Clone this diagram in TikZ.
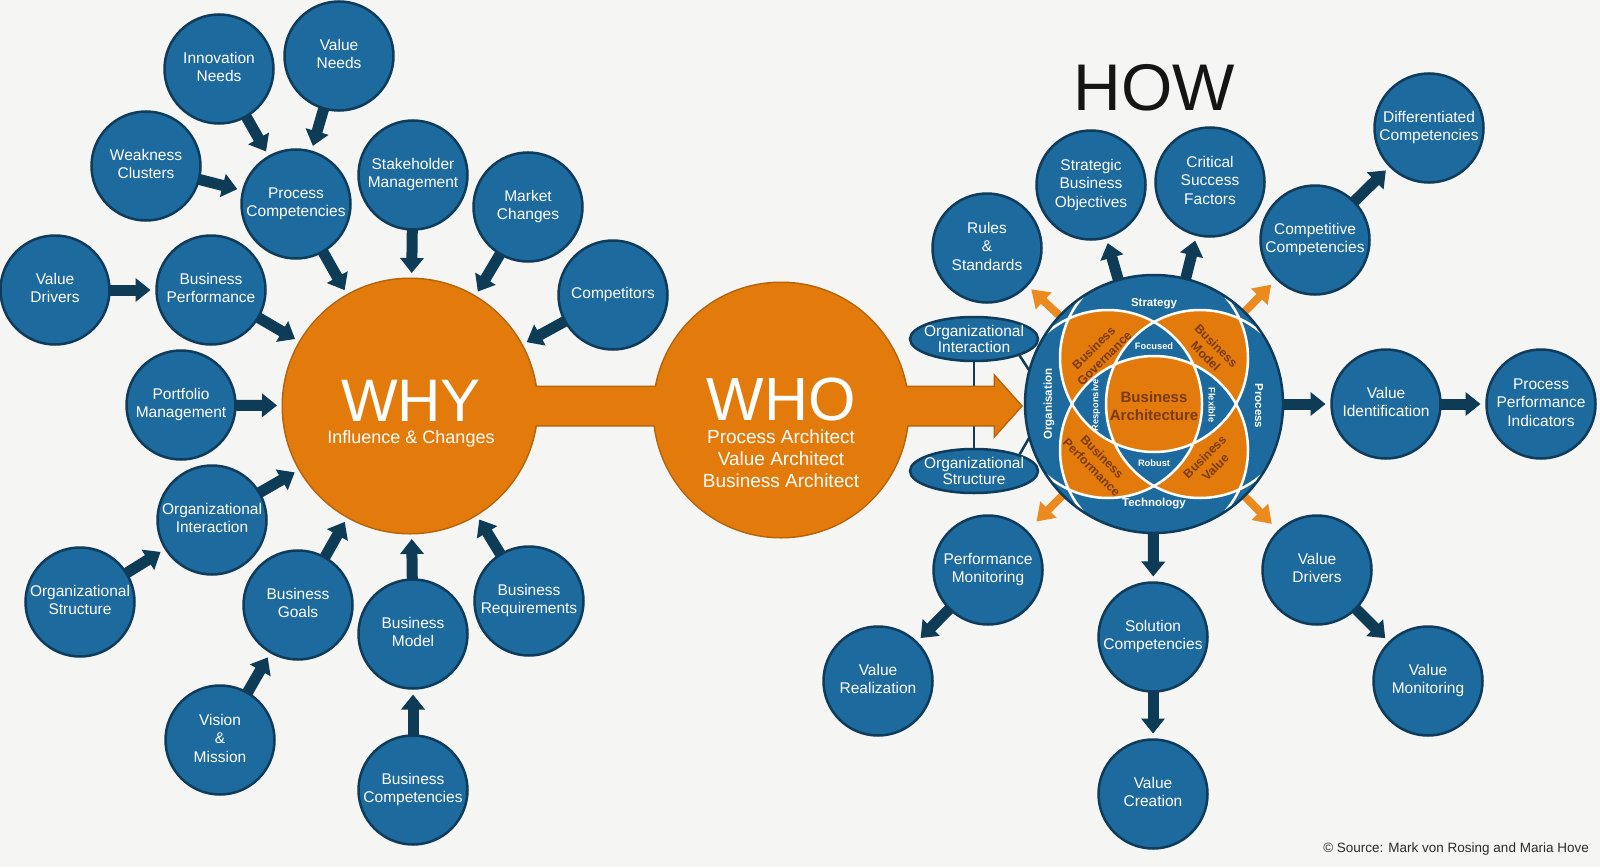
\documentclass[tikz,border=0pt]{standalone}
\usepackage{fontspec}
\setmainfont{Liberation Sans}
\usetikzlibrary{arrows.meta,shapes.geometric,calc}
\pgfdeclarelayer{back}
\pgfdeclarelayer{conn}
\pgfsetlayers{back,conn,main}
\definecolor{cblue}{HTML}{1D6A9E}
\definecolor{cblueline}{HTML}{0F3C5A}
\definecolor{carrow}{HTML}{0E3B56}
\definecolor{corange}{HTML}{E27B0B}
\definecolor{corangeline}{HTML}{B5620A}
\definecolor{coarrow}{HTML}{EA8A1F}
\definecolor{cbrown}{HTML}{7A3A0C}
\definecolor{cbg}{HTML}{F5F5F4}
\definecolor{chow}{HTML}{151515}
\newcommand{\ct}[1]{\makebox[0pt]{\begin{tabular}{@{}c@{}}#1\end{tabular}}}
\begin{document}
\begin{tikzpicture}[x=1pt,y=-1pt,
  bc/.style={circle, minimum size=109pt, inner sep=0pt, outer sep=0pt, fill=cblue, draw=cblueline, line width=2.5pt, text=white, font=\fontsize{15.5}{18.5}\selectfont},
  hub/.style={circle, minimum size=254pt, inner sep=0pt, outer sep=0pt},
  ell/.style={ellipse, minimum width=128pt, minimum height=44pt, inner sep=0pt, fill=cblue, draw=cblueline, line width=2.5pt},
  etxt/.style={text=white, font=\fontsize{15.5}{16}\selectfont, align=center, inner sep=0pt},
  darr/.style={draw=carrow, line width=11pt, -{Triangle[length=15pt,width=23pt]}, shorten >=6pt},
  oarr/.style={draw=coarrow, line width=8pt, -{Triangle[length=17pt,width=22pt]}},
  thinline/.style={draw=carrow, line width=2.5pt},
  lbl/.style={text=white, font=\bfseries\fontsize{11.5}{13}\selectfont, inner sep=0pt},
  slbl/.style={text=white, font=\bfseries\fontsize{9.3}{11}\selectfont, inner sep=0pt},
  plbl/.style={text=cbrown, font=\bfseries\fontsize{12.3}{15}\selectfont, align=center, inner sep=0pt},
  core/.style={text=cbrown, font=\bfseries\fontsize{15}{18}\selectfont, align=center, inner sep=0pt},
  bigt/.style={text=white, inner sep=0pt},
]
\begin{pgfonlayer}{back}
\fill[cbg] (0,0) rectangle (1600,867);
\end{pgfonlayer}
\useasboundingbox (0,0) rectangle (1600,867);

% ---------- WHY / WHO ----------
\node[hub] (why) at (410,406) {};
\node[hub] (who) at (781,410) {};
\draw[corangeline, line width=3pt] (why.center) circle[radius=127pt];
\draw[corangeline, line width=3pt] (who.center) circle[radius=127pt];
\draw[corangeline, line width=3pt, line join=miter] (410,387) -- (995,387) -- (995,377) -- (1021,406) -- (995,435) -- (995,425) -- (410,425) -- cycle;
\fill[corange] (why.center) circle[radius=127pt];
\fill[corange] (who.center) circle[radius=127pt];
\fill[corange] (410,387) -- (995,387) -- (995,377) -- (1021,406) -- (995,435) -- (995,425) -- (410,425) -- cycle;

\node[bigt, font=\fontsize{60}{60}\selectfont] (whyt) at (411,401) {WHY};
\node[bigt, font=\fontsize{18}{20}\selectfont, anchor=base] (whys) at (411,443) {Influence \& Changes};
\node[bigt, font=\fontsize{61}{61}\selectfont] (whot) at (781,399) {WHO};
\node[bigt, font=\fontsize{19}{22}\selectfont, anchor=base] (who1) at (781,443) {Process Architect};
\node[bigt, font=\fontsize{19}{22}\selectfont, anchor=base] (who2) at (781,465) {Value Architect};
\node[bigt, font=\fontsize{19}{22}\selectfont, anchor=base] (who3) at (781,487) {Business Architect};

% ---------- left nodes ----------
\node[bc] (innov) at (219,69) {\ct{Innovation\\Needs}};
\node[bc] (vneeds) at (339,56) {\ct{Value\\Needs}};
\node[bc] (weak) at (146,166) {\ct{Weakness\\Clusters}};
\node[bc] (procc) at (296,204) {\ct{Process\\Competencies}};
\node[bc] (stake) at (413,175) {\ct{Stakeholder\\Management}};
\node[bc] (market) at (528,207) {\ct{Market\\Changes}};
\node[bc] (vdl) at (55,290) {\ct{Value\\Drivers}};
\node[bc] (bperf) at (211,290) {\ct{Business\\Performance}};
\node[bc] (compet) at (613,295) {\ct{Competitors}};
\node[bc] (portf) at (181,405) {\ct{Portfolio\\Management}};
\node[bc] (oil) at (212,520) {\ct{Organizational\\Interaction}};
\node[bc] (osl) at (80,602) {\ct{Organizational\\Structure}};
\node[bc] (bgoals) at (298,605) {\ct{Business\\Goals}};
\node[bc] (bmodel) at (413,634) {\ct{Business\\Model}};
\node[bc] (breq) at (529,601) {\ct{Business\\Requirements}};
\node[bc] (vision) at (220,740) {\ct{Vision\\\&\\Mission}};
\node[bc] (bcomp) at (413,790) {\ct{Business\\Competencies}};

% ---------- right nodes ----------
\node[bc] (rules) at (987,248) {\ct{Rules\\\&\\Standards}};
\node[bc] (sbo) at (1091,185) {\ct{Strategic\\Business\\Objectives}};
\node[bc] (csf) at (1210,182) {\ct{Critical\\Success\\Factors}};
\node[bc] (ccomp) at (1315,240) {\ct{Competitive\\Competencies}};
\node[bc] (dcomp) at (1429,128) {\ct{Differentiated\\Competencies}};
\node[bc] (vid) at (1386,404) {\ct{Value\\Identification}};
\node[bc] (ppi) at (1541,404) {\ct{Process\\Performance\\Indicators}};
\node[bc] (pmon) at (988,570) {\ct{Performance\\Monitoring}};
\node[bc] (vreal) at (878,681) {\ct{Value\\Realization}};
\node[bc] (scomp) at (1153,637) {\ct{Solution\\Competencies}};
\node[bc] (vcre) at (1153,794) {\ct{Value\\Creation}};
\node[bc] (vdr) at (1317,570) {\ct{Value\\Drivers}};
\node[bc] (vmon) at (1428,681) {\ct{Value\\Monitoring}};

% ---------- Business Architecture wheel ----------
\node[circle, minimum size=258pt, inner sep=0pt, outer sep=0pt, fill=cblue, draw=cblueline, line width=2.5pt] (ba) at (1154,404) {};
\begin{scope}
  \clip (ba.center) circle[radius=127.5pt];
  \begin{scope}\clip (1154,358) circle[radius=94pt];
    \fill[corange] (1108,404) circle[radius=94pt];
    \fill[corange] (1200,404) circle[radius=94pt];
  \end{scope}
  \begin{scope}\clip (1154,450) circle[radius=94pt];
    \fill[corange] (1108,404) circle[radius=94pt];
    \fill[corange] (1200,404) circle[radius=94pt];
  \end{scope}
  \begin{scope}\clip (1108,404) circle[radius=94pt];
    \fill[cblue] (1200,404) circle[radius=94pt];
  \end{scope}
  \begin{scope}\clip (1154,358) circle[radius=94pt];
    \fill[cblue] (1154,450) circle[radius=94pt];
  \end{scope}
  \begin{scope}\clip (1154,358) circle[radius=94pt];
    \clip (1154,450) circle[radius=94pt];
    \clip (1108,404) circle[radius=94pt];
    \fill[corange] (1200,404) circle[radius=94pt];
  \end{scope}
  \draw[white, line width=2.5pt] (1154,358) circle[radius=94pt] (1154,450) circle[radius=94pt]
     (1108,404) circle[radius=94pt] (1200,404) circle[radius=94pt];
\end{scope}
\node[lbl] (strat) at (1154,304) {Strategy};
\node[lbl] (techn) at (1154,504) {Technology};
\node[lbl, rotate=90] (orgn) at (1049,404) {Organisation};
\node[lbl, rotate=-90] (procl) at (1259,406) {Process};
\node[slbl] (foc) at (1154,346) {Focused};
\node[slbl] (rob) at (1154,463) {Robust};
\node[slbl, rotate=90] (resp) at (1096,405) {Responsive};
\node[slbl, rotate=-90] (flex) at (1212,405) {Flexible};
\node[core] (bacore) at (1154,406) {Business\\Architecture};
\node[plbl, rotate=45] (pgov) at (1099,353) {Business\\Governance};
\node[plbl, rotate=-45] (pmod) at (1211,351) {Business\\Model};
\node[plbl, rotate=-45] (pperf) at (1097,462) {Business\\Performance};
\node[plbl, rotate=45] (pval) at (1210,462) {Business\\Value};

% ---------- ellipses ----------
\node[ell] (oi) at (974,339) {};
\node[etxt] (oit) at (oi.center) {Organizational\\Interaction};
\node[ell] (os) at (974,471) {};
\node[etxt] (ost) at (os.center) {Organizational\\Structure};

% ---------- titles ----------
\node[text=chow, font=\fontsize{66}{66}\selectfont, inner sep=0pt] (how) at (1154,88) {HOW};
\node[text=chow!90, font=\fontsize{13.5}{15}\selectfont, inner sep=0pt, anchor=east] (src) at (1589,849) {© Source: Mark von Rosing and Maria Hove};

% ---------- connectors ----------
\begin{pgfonlayer}{conn}
\draw[darr] (innov) -- (procc);
\draw[darr] (vneeds) -- (procc);
\draw[darr] (weak) -- (procc);
\draw[darr] (procc) -- (why);
\draw[darr] (stake) -- (why);
\draw[darr] (market) -- (why);
\draw[darr] (vdl) -- (bperf);
\draw[darr] (bperf) -- (why);
\draw[darr] (compet) -- (why);
\draw[darr] (portf) -- (why);
\draw[darr] (oil) -- (why);
\draw[darr] (osl) -- (oil);
\draw[darr] (bgoals) -- (why);
\draw[darr] (vision) -- (bgoals);
\draw[darr] (bmodel) -- (why);
\draw[darr] (bcomp) -- (bmodel);
\draw[darr] (breq) -- (why);
\draw[darr] (ba) -- (sbo);
\draw[darr] (ba) -- (csf);
\draw[darr] (ccomp) -- (dcomp);
\draw[darr] (ba) -- (vid);
\draw[darr] (vid) -- (ppi);
\draw[darr] (ba) -- (scomp);
\draw[darr] (scomp) -- (vcre);
\draw[darr] (pmon) -- (vreal);
\draw[darr] (vdr) -- (vmon);
\draw[oarr, shorten >=6pt] (ba.center) -- (rules);
\draw[oarr, shorten >=8pt] (ba.center) -- (ccomp);
\draw[oarr, shorten >=14pt] (ba.center) -- (pmon);
\draw[oarr, shorten >=10pt] (ba.center) -- (vdr);
\draw[thinline] (oi) -- (os);
\draw[thinline] (oi.-20) -- (ba.165);
\draw[thinline] (os.20) -- (ba.195);
\end{pgfonlayer}
\end{tikzpicture}
\end{document}
